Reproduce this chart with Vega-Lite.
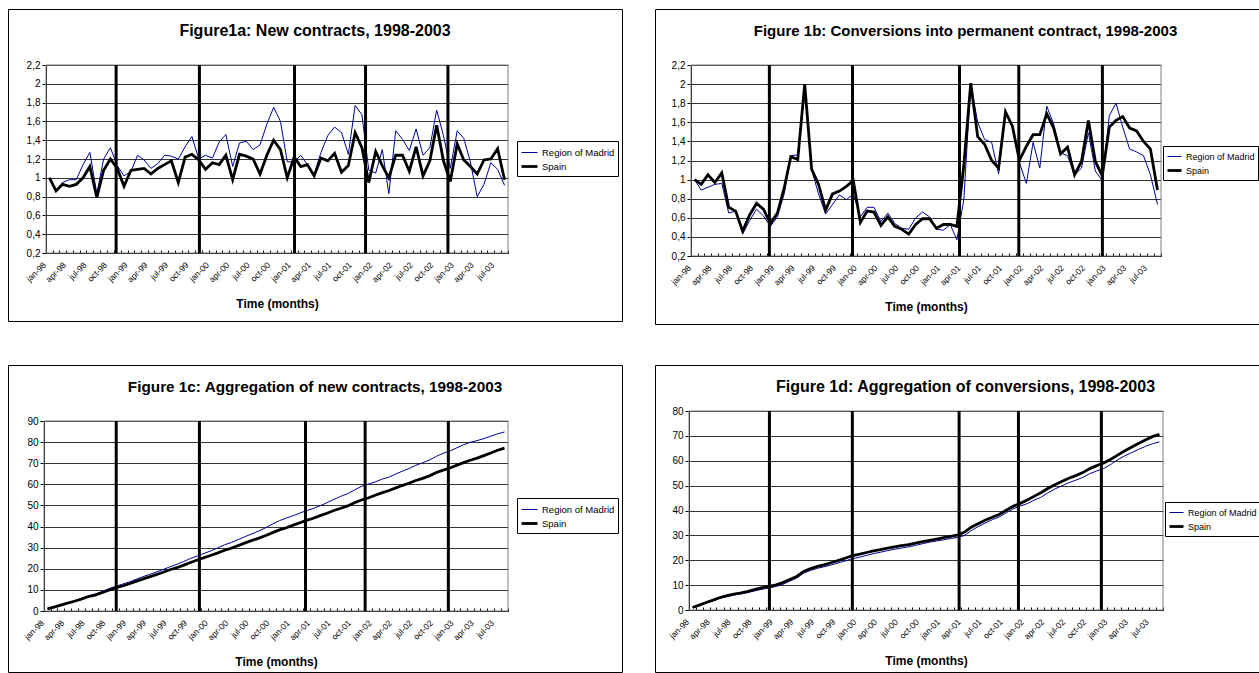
{
  "$schema": "https://vega.github.io/schema/vega-lite/v6.json",
  "background": "white",
  "padding": {"left": 7, "top": 8, "right": 0, "bottom": 0},
  "columns": 2,
  "spacing": {"row": 39, "column": 31},
  "resolve": {
    "scale": {"color": "independent", "strokeWidth": "independent"},
    "legend": {"color": "independent", "strokeWidth": "independent"}
  },
  "datasets": {
    "fig1a": [
      {"m": "1998-01", "Region of Madrid": 1.00, "Spain": 1.00},
      {"m": "1998-02", "Region of Madrid": 0.87, "Spain": 0.86},
      {"m": "1998-03", "Region of Madrid": 0.95, "Spain": 0.93},
      {"m": "1998-04", "Region of Madrid": 0.98, "Spain": 0.91},
      {"m": "1998-05", "Region of Madrid": 0.98, "Spain": 0.93},
      {"m": "1998-06", "Region of Madrid": 1.14, "Spain": 1.00},
      {"m": "1998-07", "Region of Madrid": 1.27, "Spain": 1.12},
      {"m": "1998-08", "Region of Madrid": 0.83, "Spain": 0.79},
      {"m": "1998-09", "Region of Madrid": 1.20, "Spain": 1.08},
      {"m": "1998-10", "Region of Madrid": 1.32, "Spain": 1.20},
      {"m": "1998-11", "Region of Madrid": 1.13, "Spain": 1.10},
      {"m": "1998-12", "Region of Madrid": 1.02, "Spain": 0.91},
      {"m": "1999-01", "Region of Madrid": 1.07, "Spain": 1.08},
      {"m": "1999-02", "Region of Madrid": 1.24, "Spain": 1.09},
      {"m": "1999-03", "Region of Madrid": 1.19, "Spain": 1.10},
      {"m": "1999-04", "Region of Madrid": 1.10, "Spain": 1.04},
      {"m": "1999-05", "Region of Madrid": 1.15, "Spain": 1.10},
      {"m": "1999-06", "Region of Madrid": 1.24, "Spain": 1.14},
      {"m": "1999-07", "Region of Madrid": 1.23, "Spain": 1.18},
      {"m": "1999-08", "Region of Madrid": 1.20, "Spain": 0.95},
      {"m": "1999-09", "Region of Madrid": 1.33, "Spain": 1.22},
      {"m": "1999-10", "Region of Madrid": 1.44, "Spain": 1.25},
      {"m": "1999-11", "Region of Madrid": 1.20, "Spain": 1.19},
      {"m": "1999-12", "Region of Madrid": 1.24, "Spain": 1.09},
      {"m": "2000-01", "Region of Madrid": 1.21, "Spain": 1.16},
      {"m": "2000-02", "Region of Madrid": 1.38, "Spain": 1.14},
      {"m": "2000-03", "Region of Madrid": 1.46, "Spain": 1.24},
      {"m": "2000-04", "Region of Madrid": 1.12, "Spain": 0.98},
      {"m": "2000-05", "Region of Madrid": 1.37, "Spain": 1.25},
      {"m": "2000-06", "Region of Madrid": 1.39, "Spain": 1.23},
      {"m": "2000-07", "Region of Madrid": 1.30, "Spain": 1.20},
      {"m": "2000-08", "Region of Madrid": 1.35, "Spain": 1.04},
      {"m": "2000-09", "Region of Madrid": 1.57, "Spain": 1.24},
      {"m": "2000-10", "Region of Madrid": 1.75, "Spain": 1.40},
      {"m": "2000-11", "Region of Madrid": 1.60, "Spain": 1.30},
      {"m": "2000-12", "Region of Madrid": 1.17, "Spain": 1.00},
      {"m": "2001-01", "Region of Madrid": 1.17, "Spain": 1.22},
      {"m": "2001-02", "Region of Madrid": 1.24, "Spain": 1.12},
      {"m": "2001-03", "Region of Madrid": 1.14, "Spain": 1.14},
      {"m": "2001-04", "Region of Madrid": 1.04, "Spain": 1.02},
      {"m": "2001-05", "Region of Madrid": 1.27, "Spain": 1.21},
      {"m": "2001-06", "Region of Madrid": 1.45, "Spain": 1.18},
      {"m": "2001-07", "Region of Madrid": 1.54, "Spain": 1.26},
      {"m": "2001-08", "Region of Madrid": 1.48, "Spain": 1.06},
      {"m": "2001-09", "Region of Madrid": 1.25, "Spain": 1.13},
      {"m": "2001-10", "Region of Madrid": 1.77, "Spain": 1.48},
      {"m": "2001-11", "Region of Madrid": 1.67, "Spain": 1.32},
      {"m": "2001-12", "Region of Madrid": 1.08, "Spain": 0.95},
      {"m": "2002-01", "Region of Madrid": 1.05, "Spain": 1.28},
      {"m": "2002-02", "Region of Madrid": 1.30, "Spain": 1.13},
      {"m": "2002-03", "Region of Madrid": 0.83, "Spain": 1.00},
      {"m": "2002-04", "Region of Madrid": 1.50, "Spain": 1.24},
      {"m": "2002-05", "Region of Madrid": 1.41, "Spain": 1.24},
      {"m": "2002-06", "Region of Madrid": 1.29, "Spain": 1.07},
      {"m": "2002-07", "Region of Madrid": 1.52, "Spain": 1.33},
      {"m": "2002-08", "Region of Madrid": 1.24, "Spain": 1.02},
      {"m": "2002-09", "Region of Madrid": 1.32, "Spain": 1.18},
      {"m": "2002-10", "Region of Madrid": 1.72, "Spain": 1.56},
      {"m": "2002-11", "Region of Madrid": 1.45, "Spain": 1.18},
      {"m": "2002-12", "Region of Madrid": 1.10, "Spain": 0.96},
      {"m": "2003-01", "Region of Madrid": 1.50, "Spain": 1.36},
      {"m": "2003-02", "Region of Madrid": 1.42, "Spain": 1.19},
      {"m": "2003-03", "Region of Madrid": 1.17, "Spain": 1.12},
      {"m": "2003-04", "Region of Madrid": 0.80, "Spain": 1.04},
      {"m": "2003-05", "Region of Madrid": 0.93, "Spain": 1.19},
      {"m": "2003-06", "Region of Madrid": 1.16, "Spain": 1.20},
      {"m": "2003-07", "Region of Madrid": 1.09, "Spain": 1.31},
      {"m": "2003-08", "Region of Madrid": 0.92, "Spain": 0.98}
    ],
    "fig1b": [
      {"m": "1998-01", "Region of Madrid": 1.00, "Spain": 1.00},
      {"m": "1998-02", "Region of Madrid": 0.89, "Spain": 0.95},
      {"m": "1998-03", "Region of Madrid": 0.92, "Spain": 1.05},
      {"m": "1998-04", "Region of Madrid": 0.95, "Spain": 0.97},
      {"m": "1998-05", "Region of Madrid": 0.96, "Spain": 1.07},
      {"m": "1998-06", "Region of Madrid": 0.65, "Spain": 0.71},
      {"m": "1998-07", "Region of Madrid": 0.67, "Spain": 0.67},
      {"m": "1998-08", "Region of Madrid": 0.43, "Spain": 0.46},
      {"m": "1998-09", "Region of Madrid": 0.57, "Spain": 0.63},
      {"m": "1998-10", "Region of Madrid": 0.69, "Spain": 0.75},
      {"m": "1998-11", "Region of Madrid": 0.62, "Spain": 0.69},
      {"m": "1998-12", "Region of Madrid": 0.51, "Spain": 0.54},
      {"m": "1999-01", "Region of Madrid": 0.61, "Spain": 0.65},
      {"m": "1999-02", "Region of Madrid": 0.85, "Spain": 0.91},
      {"m": "1999-03", "Region of Madrid": 1.25, "Spain": 1.24},
      {"m": "1999-04", "Region of Madrid": 1.26, "Spain": 1.21},
      {"m": "1999-05", "Region of Madrid": 2.00, "Spain": 2.00},
      {"m": "1999-06", "Region of Madrid": 1.10, "Spain": 1.11},
      {"m": "1999-07", "Region of Madrid": 0.85, "Spain": 0.95},
      {"m": "1999-08", "Region of Madrid": 0.64, "Spain": 0.68},
      {"m": "1999-09", "Region of Madrid": 0.74, "Spain": 0.85},
      {"m": "1999-10", "Region of Madrid": 0.84, "Spain": 0.88},
      {"m": "1999-11", "Region of Madrid": 0.79, "Spain": 0.93},
      {"m": "1999-12", "Region of Madrid": 0.85, "Spain": 0.99},
      {"m": "2000-01", "Region of Madrid": 0.61, "Spain": 0.55},
      {"m": "2000-02", "Region of Madrid": 0.71, "Spain": 0.67},
      {"m": "2000-03", "Region of Madrid": 0.71, "Spain": 0.66},
      {"m": "2000-04", "Region of Madrid": 0.56, "Spain": 0.52},
      {"m": "2000-05", "Region of Madrid": 0.65, "Spain": 0.61},
      {"m": "2000-06", "Region of Madrid": 0.54, "Spain": 0.51},
      {"m": "2000-07", "Region of Madrid": 0.49, "Spain": 0.48},
      {"m": "2000-08", "Region of Madrid": 0.48, "Spain": 0.43},
      {"m": "2000-09", "Region of Madrid": 0.60, "Spain": 0.53},
      {"m": "2000-10", "Region of Madrid": 0.66, "Spain": 0.59},
      {"m": "2000-11", "Region of Madrid": 0.61, "Spain": 0.59},
      {"m": "2000-12", "Region of Madrid": 0.48, "Spain": 0.49},
      {"m": "2001-01", "Region of Madrid": 0.47, "Spain": 0.53},
      {"m": "2001-02", "Region of Madrid": 0.53, "Spain": 0.53},
      {"m": "2001-03", "Region of Madrid": 0.37, "Spain": 0.51},
      {"m": "2001-04", "Region of Madrid": 0.79, "Spain": 1.15},
      {"m": "2001-05", "Region of Madrid": 2.00, "Spain": 2.01},
      {"m": "2001-06", "Region of Madrid": 1.60, "Spain": 1.45},
      {"m": "2001-07", "Region of Madrid": 1.42, "Spain": 1.37},
      {"m": "2001-08", "Region of Madrid": 1.39, "Spain": 1.20},
      {"m": "2001-09", "Region of Madrid": 1.06, "Spain": 1.12},
      {"m": "2001-10", "Region of Madrid": 1.70, "Spain": 1.71},
      {"m": "2001-11", "Region of Madrid": 1.56, "Spain": 1.56},
      {"m": "2001-12", "Region of Madrid": 1.18, "Spain": 1.20},
      {"m": "2002-01", "Region of Madrid": 0.96, "Spain": 1.35},
      {"m": "2002-02", "Region of Madrid": 1.39, "Spain": 1.47},
      {"m": "2002-03", "Region of Madrid": 1.12, "Spain": 1.47},
      {"m": "2002-04", "Region of Madrid": 1.77, "Spain": 1.69},
      {"m": "2002-05", "Region of Madrid": 1.58, "Spain": 1.54},
      {"m": "2002-06", "Region of Madrid": 1.28, "Spain": 1.27},
      {"m": "2002-07", "Region of Madrid": 1.25, "Spain": 1.34},
      {"m": "2002-08", "Region of Madrid": 1.05, "Spain": 1.05},
      {"m": "2002-09", "Region of Madrid": 1.12, "Spain": 1.19},
      {"m": "2002-10", "Region of Madrid": 1.49, "Spain": 1.62},
      {"m": "2002-11", "Region of Madrid": 1.09, "Spain": 1.19},
      {"m": "2002-12", "Region of Madrid": 0.99, "Spain": 1.04},
      {"m": "2003-01", "Region of Madrid": 1.67, "Spain": 1.55},
      {"m": "2003-02", "Region of Madrid": 1.80, "Spain": 1.62},
      {"m": "2003-03", "Region of Madrid": 1.55, "Spain": 1.66},
      {"m": "2003-04", "Region of Madrid": 1.32, "Spain": 1.54},
      {"m": "2003-05", "Region of Madrid": 1.29, "Spain": 1.51},
      {"m": "2003-06", "Region of Madrid": 1.25, "Spain": 1.40},
      {"m": "2003-07", "Region of Madrid": 1.05, "Spain": 1.32},
      {"m": "2003-08", "Region of Madrid": 0.74, "Spain": 0.89}
    ],
    "fig1c": [
      {"m": "1998-01", "Region of Madrid": 1.00, "Spain": 1.00},
      {"m": "1998-02", "Region of Madrid": 1.87, "Spain": 1.86},
      {"m": "1998-03", "Region of Madrid": 2.82, "Spain": 2.79},
      {"m": "1998-04", "Region of Madrid": 3.80, "Spain": 3.70},
      {"m": "1998-05", "Region of Madrid": 4.78, "Spain": 4.63},
      {"m": "1998-06", "Region of Madrid": 5.92, "Spain": 5.63},
      {"m": "1998-07", "Region of Madrid": 7.19, "Spain": 6.75},
      {"m": "1998-08", "Region of Madrid": 8.02, "Spain": 7.54},
      {"m": "1998-09", "Region of Madrid": 9.22, "Spain": 8.62},
      {"m": "1998-10", "Region of Madrid": 10.54, "Spain": 9.82},
      {"m": "1998-11", "Region of Madrid": 11.67, "Spain": 10.92},
      {"m": "1998-12", "Region of Madrid": 12.69, "Spain": 11.83},
      {"m": "1999-01", "Region of Madrid": 13.76, "Spain": 12.91},
      {"m": "1999-02", "Region of Madrid": 15.00, "Spain": 14.00},
      {"m": "1999-03", "Region of Madrid": 16.19, "Spain": 15.10},
      {"m": "1999-04", "Region of Madrid": 17.29, "Spain": 16.14},
      {"m": "1999-05", "Region of Madrid": 18.44, "Spain": 17.24},
      {"m": "1999-06", "Region of Madrid": 19.68, "Spain": 18.38},
      {"m": "1999-07", "Region of Madrid": 20.91, "Spain": 19.56},
      {"m": "1999-08", "Region of Madrid": 22.11, "Spain": 20.51},
      {"m": "1999-09", "Region of Madrid": 23.44, "Spain": 21.73},
      {"m": "1999-10", "Region of Madrid": 24.88, "Spain": 22.98},
      {"m": "1999-11", "Region of Madrid": 26.08, "Spain": 24.17},
      {"m": "1999-12", "Region of Madrid": 27.32, "Spain": 25.26},
      {"m": "2000-01", "Region of Madrid": 28.53, "Spain": 26.42},
      {"m": "2000-02", "Region of Madrid": 29.91, "Spain": 27.56},
      {"m": "2000-03", "Region of Madrid": 31.37, "Spain": 28.80},
      {"m": "2000-04", "Region of Madrid": 32.49, "Spain": 29.78},
      {"m": "2000-05", "Region of Madrid": 33.86, "Spain": 31.03},
      {"m": "2000-06", "Region of Madrid": 35.25, "Spain": 32.26},
      {"m": "2000-07", "Region of Madrid": 36.55, "Spain": 33.46},
      {"m": "2000-08", "Region of Madrid": 37.90, "Spain": 34.50},
      {"m": "2000-09", "Region of Madrid": 39.47, "Spain": 35.74},
      {"m": "2000-10", "Region of Madrid": 41.22, "Spain": 37.14},
      {"m": "2000-11", "Region of Madrid": 42.82, "Spain": 38.44},
      {"m": "2000-12", "Region of Madrid": 43.99, "Spain": 39.44},
      {"m": "2001-01", "Region of Madrid": 45.16, "Spain": 40.66},
      {"m": "2001-02", "Region of Madrid": 46.40, "Spain": 41.78},
      {"m": "2001-03", "Region of Madrid": 47.54, "Spain": 42.92},
      {"m": "2001-04", "Region of Madrid": 48.58, "Spain": 43.94},
      {"m": "2001-05", "Region of Madrid": 49.85, "Spain": 45.15},
      {"m": "2001-06", "Region of Madrid": 51.30, "Spain": 46.33},
      {"m": "2001-07", "Region of Madrid": 52.84, "Spain": 47.59},
      {"m": "2001-08", "Region of Madrid": 54.32, "Spain": 48.65},
      {"m": "2001-09", "Region of Madrid": 55.57, "Spain": 49.78},
      {"m": "2001-10", "Region of Madrid": 57.34, "Spain": 51.26},
      {"m": "2001-11", "Region of Madrid": 59.01, "Spain": 52.58},
      {"m": "2001-12", "Region of Madrid": 60.09, "Spain": 53.53},
      {"m": "2002-01", "Region of Madrid": 61.14, "Spain": 54.81},
      {"m": "2002-02", "Region of Madrid": 62.44, "Spain": 55.94},
      {"m": "2002-03", "Region of Madrid": 63.27, "Spain": 56.94},
      {"m": "2002-04", "Region of Madrid": 64.77, "Spain": 58.18},
      {"m": "2002-05", "Region of Madrid": 66.18, "Spain": 59.42},
      {"m": "2002-06", "Region of Madrid": 67.47, "Spain": 60.49},
      {"m": "2002-07", "Region of Madrid": 68.99, "Spain": 61.82},
      {"m": "2002-08", "Region of Madrid": 70.23, "Spain": 62.84},
      {"m": "2002-09", "Region of Madrid": 71.55, "Spain": 64.02},
      {"m": "2002-10", "Region of Madrid": 73.27, "Spain": 65.58},
      {"m": "2002-11", "Region of Madrid": 74.72, "Spain": 66.76},
      {"m": "2002-12", "Region of Madrid": 75.82, "Spain": 67.72},
      {"m": "2003-01", "Region of Madrid": 77.32, "Spain": 69.08},
      {"m": "2003-02", "Region of Madrid": 78.74, "Spain": 70.27},
      {"m": "2003-03", "Region of Madrid": 79.91, "Spain": 71.39},
      {"m": "2003-04", "Region of Madrid": 80.71, "Spain": 72.43},
      {"m": "2003-05", "Region of Madrid": 81.64, "Spain": 73.62},
      {"m": "2003-06", "Region of Madrid": 82.80, "Spain": 74.82},
      {"m": "2003-07", "Region of Madrid": 83.89, "Spain": 76.13},
      {"m": "2003-08", "Region of Madrid": 84.81, "Spain": 77.11}
    ],
    "fig1d": [
      {"m": "1998-01", "Region of Madrid": 1.00, "Spain": 1.00},
      {"m": "1998-02", "Region of Madrid": 1.89, "Spain": 1.95},
      {"m": "1998-03", "Region of Madrid": 2.81, "Spain": 3.00},
      {"m": "1998-04", "Region of Madrid": 3.76, "Spain": 3.97},
      {"m": "1998-05", "Region of Madrid": 4.72, "Spain": 5.04},
      {"m": "1998-06", "Region of Madrid": 5.37, "Spain": 5.75},
      {"m": "1998-07", "Region of Madrid": 6.04, "Spain": 6.42},
      {"m": "1998-08", "Region of Madrid": 6.47, "Spain": 6.88},
      {"m": "1998-09", "Region of Madrid": 7.04, "Spain": 7.51},
      {"m": "1998-10", "Region of Madrid": 7.73, "Spain": 8.26},
      {"m": "1998-11", "Region of Madrid": 8.35, "Spain": 8.95},
      {"m": "1998-12", "Region of Madrid": 8.86, "Spain": 9.49},
      {"m": "1999-01", "Region of Madrid": 9.47, "Spain": 10.14},
      {"m": "1999-02", "Region of Madrid": 10.32, "Spain": 11.05},
      {"m": "1999-03", "Region of Madrid": 11.57, "Spain": 12.29},
      {"m": "1999-04", "Region of Madrid": 12.83, "Spain": 13.50},
      {"m": "1999-05", "Region of Madrid": 14.83, "Spain": 15.50},
      {"m": "1999-06", "Region of Madrid": 15.93, "Spain": 16.61},
      {"m": "1999-07", "Region of Madrid": 16.78, "Spain": 17.56},
      {"m": "1999-08", "Region of Madrid": 17.42, "Spain": 18.24},
      {"m": "1999-09", "Region of Madrid": 18.16, "Spain": 19.09},
      {"m": "1999-10", "Region of Madrid": 19.00, "Spain": 19.97},
      {"m": "1999-11", "Region of Madrid": 19.79, "Spain": 20.90},
      {"m": "1999-12", "Region of Madrid": 20.64, "Spain": 21.89},
      {"m": "2000-01", "Region of Madrid": 21.25, "Spain": 22.44},
      {"m": "2000-02", "Region of Madrid": 21.96, "Spain": 23.11},
      {"m": "2000-03", "Region of Madrid": 22.67, "Spain": 23.77},
      {"m": "2000-04", "Region of Madrid": 23.23, "Spain": 24.29},
      {"m": "2000-05", "Region of Madrid": 23.88, "Spain": 24.90},
      {"m": "2000-06", "Region of Madrid": 24.42, "Spain": 25.41},
      {"m": "2000-07", "Region of Madrid": 24.91, "Spain": 25.89},
      {"m": "2000-08", "Region of Madrid": 25.39, "Spain": 26.32},
      {"m": "2000-09", "Region of Madrid": 25.99, "Spain": 26.85},
      {"m": "2000-10", "Region of Madrid": 26.65, "Spain": 27.44},
      {"m": "2000-11", "Region of Madrid": 27.26, "Spain": 28.03},
      {"m": "2000-12", "Region of Madrid": 27.74, "Spain": 28.52},
      {"m": "2001-01", "Region of Madrid": 28.21, "Spain": 29.05},
      {"m": "2001-02", "Region of Madrid": 28.74, "Spain": 29.58},
      {"m": "2001-03", "Region of Madrid": 29.11, "Spain": 30.09},
      {"m": "2001-04", "Region of Madrid": 29.90, "Spain": 31.24},
      {"m": "2001-05", "Region of Madrid": 31.90, "Spain": 33.25},
      {"m": "2001-06", "Region of Madrid": 33.50, "Spain": 34.70},
      {"m": "2001-07", "Region of Madrid": 34.92, "Spain": 36.07},
      {"m": "2001-08", "Region of Madrid": 36.31, "Spain": 37.27},
      {"m": "2001-09", "Region of Madrid": 37.37, "Spain": 38.39},
      {"m": "2001-10", "Region of Madrid": 39.07, "Spain": 40.10},
      {"m": "2001-11", "Region of Madrid": 40.63, "Spain": 41.66},
      {"m": "2001-12", "Region of Madrid": 41.81, "Spain": 42.86},
      {"m": "2002-01", "Region of Madrid": 42.77, "Spain": 44.21},
      {"m": "2002-02", "Region of Madrid": 44.16, "Spain": 45.68},
      {"m": "2002-03", "Region of Madrid": 45.28, "Spain": 47.15},
      {"m": "2002-04", "Region of Madrid": 47.05, "Spain": 48.84},
      {"m": "2002-05", "Region of Madrid": 48.63, "Spain": 50.38},
      {"m": "2002-06", "Region of Madrid": 49.91, "Spain": 51.65},
      {"m": "2002-07", "Region of Madrid": 51.16, "Spain": 52.99},
      {"m": "2002-08", "Region of Madrid": 52.21, "Spain": 54.04},
      {"m": "2002-09", "Region of Madrid": 53.33, "Spain": 55.23},
      {"m": "2002-10", "Region of Madrid": 54.82, "Spain": 56.85},
      {"m": "2002-11", "Region of Madrid": 55.91, "Spain": 58.04},
      {"m": "2002-12", "Region of Madrid": 56.90, "Spain": 59.08},
      {"m": "2003-01", "Region of Madrid": 58.57, "Spain": 60.63},
      {"m": "2003-02", "Region of Madrid": 60.37, "Spain": 62.25},
      {"m": "2003-03", "Region of Madrid": 61.92, "Spain": 63.91},
      {"m": "2003-04", "Region of Madrid": 63.24, "Spain": 65.45},
      {"m": "2003-05", "Region of Madrid": 64.53, "Spain": 66.96},
      {"m": "2003-06", "Region of Madrid": 65.78, "Spain": 68.36},
      {"m": "2003-07", "Region of Madrid": 66.83, "Spain": 69.68},
      {"m": "2003-08", "Region of Madrid": 67.57, "Spain": 70.57}
    ]
  },
  "concat": [
    {
      "width": 614,
      "height": 312,
      "title": {"text": "Figure1a: New contracts, 1998-2003", "fontSize": 16},
      "layer": [
        {
          "data": {"values": [{}]},
          "mark": {"type": "rect", "fill": "transparent", "stroke": "#808080", "strokeWidth": 1},
          "encoding": {
            "x": {"datum": {"year": 1998, "month": 1, "date": 1, "utc": true}, "type": "temporal", "scale": {"type": "utc"}},
            "x2": {"datum": {"year": 2003, "month": 9, "date": 1, "utc": true}},
            "y": {"datum": 0.2, "type": "quantitative"},
            "y2": {"datum": 2.2}
          }
        },
        {
          "data": {"name": "fig1a"},
          "transform": [{"fold": ["Region of Madrid", "Spain"], "as": ["series", "value"]}],
          "mark": "line",
          "encoding": {
            "x": {
              "field": "m", "type": "temporal", "timeUnit": "utcyearmonth", "bandPosition": 0.5,
              "scale": {"type": "utc", "domain": [{"year": 1998, "month": 1, "date": 1, "utc": true}, {"year": 2003, "month": 9, "date": 1, "utc": true}], "range": [38, 500]},
              "axis": {"title": "Time (months)", "offset": -68, "tickCount": {"interval": "month", "step": 1},
                "labelExpr": "utcmonth(datum.value) % 3 == 0 ? lower(utcFormat(datum.value, '%b-%y')) : ''"}
            },
            "y": {
              "field": "value", "type": "quantitative",
              "scale": {"domain": [0.2, 2.2], "range": [244, 56], "nice": false, "zero": false},
              "axis": {"title": null, "offset": -38, "tickCount": 30, "values": [0.2, 0.4, 0.6, 0.8, 1, 1.2, 1.4, 1.6, 1.8, 2, 2.2],
                "labelExpr": "replace(format(datum.value, '~g'), '.', ',')"}
            },
            "color": {
              "field": "series", "type": "nominal",
              "scale": {"domain": ["Region of Madrid", "Spain"], "range": ["#000099", "#000000"]},
              "legend": {"orient": "none", "legendX": 509, "legendY": 132, "symbolSize": 256, "labelFontSize": 9.5}
            },
            "strokeWidth": {
              "field": "series", "type": "nominal",
              "scale": {"domain": ["Region of Madrid", "Spain"], "range": [1, 2.8]}
            }
          }
        },
        {
          "data": {"values": [{"d": "1998-11-11"}, {"d": "1999-11-19"}, {"d": "2001-01-18"}, {"d": "2001-12-02"}, {"d": "2002-12-06"}]},
          "mark": {"type": "rule", "color": "black", "strokeWidth": 3},
          "encoding": {
            "x": {"field": "d", "type": "temporal", "scale": {"type": "utc"}},
            "y": {"datum": 0.2, "type": "quantitative"},
            "y2": {"datum": 2.2}
          }
        }
      ]
    },
    {
      "width": 605,
      "height": 315,
      "title": {"text": "Figure 1b: Conversions into permanent contract, 1998-2003", "dx": 8, "fontSize": 15},
      "layer": [
        {
          "data": {"values": [{}]},
          "mark": {"type": "rect", "fill": "transparent", "stroke": "#808080", "strokeWidth": 1},
          "encoding": {
            "x": {"datum": {"year": 1998, "month": 1, "date": 1, "utc": true}, "type": "temporal", "scale": {"type": "utc"}},
            "x2": {"datum": {"year": 2003, "month": 9, "date": 1, "utc": true}},
            "y": {"datum": 0.2, "type": "quantitative"},
            "y2": {"datum": 2.2}
          }
        },
        {
          "data": {"name": "fig1b"},
          "transform": [{"fold": ["Region of Madrid", "Spain"], "as": ["series", "value"]}],
          "mark": "line",
          "encoding": {
            "x": {
              "field": "m", "type": "temporal", "timeUnit": "utcyearmonth", "bandPosition": 0.5,
              "scale": {"type": "utc", "domain": [{"year": 1998, "month": 1, "date": 1, "utc": true}, {"year": 2003, "month": 9, "date": 1, "utc": true}], "range": [36, 506]},
              "axis": {"title": "Time (months)", "offset": -68, "tickCount": {"interval": "month", "step": 1},
                "labelExpr": "utcmonth(datum.value) % 3 == 0 ? lower(utcFormat(datum.value, '%b-%y')) : ''"}
            },
            "y": {
              "field": "value", "type": "quantitative",
              "scale": {"domain": [0.2, 2.2], "range": [247, 56], "nice": false, "zero": false},
              "axis": {"title": null, "offset": -36, "tickCount": 30, "values": [0.2, 0.4, 0.6, 0.8, 1, 1.2, 1.4, 1.6, 1.8, 2, 2.2],
                "labelExpr": "replace(format(datum.value, '~g'), '.', ',')"}
            },
            "color": {
              "field": "series", "type": "nominal",
              "scale": {"domain": ["Region of Madrid", "Spain"], "range": ["#000099", "#000000"]},
              "legend": {"orient": "none", "legendX": 508, "legendY": 137, "symbolSize": 196, "labelFontSize": 9}
            },
            "strokeWidth": {
              "field": "series", "type": "nominal",
              "scale": {"domain": ["Region of Madrid", "Spain"], "range": [1, 2.8]}
            }
          }
        },
        {
          "data": {"values": [{"d": "1998-12-12"}, {"d": "1999-12-13"}, {"d": "2001-03-28"}, {"d": "2001-12-14"}, {"d": "2002-12-17"}]},
          "mark": {"type": "rule", "color": "black", "strokeWidth": 3},
          "encoding": {
            "x": {"field": "d", "type": "temporal", "scale": {"type": "utc"}},
            "y": {"datum": 0.2, "type": "quantitative"},
            "y2": {"datum": 2.2}
          }
        }
      ]
    },
    {
      "width": 614,
      "height": 307,
      "title": {"text": "Figure 1c: Aggregation of new contracts, 1998-2003", "fontSize": 15.3},
      "layer": [
        {
          "data": {"values": [{}]},
          "mark": {"type": "rect", "fill": "transparent", "stroke": "#808080", "strokeWidth": 1},
          "encoding": {
            "x": {"datum": {"year": 1998, "month": 1, "date": 1, "utc": true}, "type": "temporal", "scale": {"type": "utc"}},
            "x2": {"datum": {"year": 2003, "month": 9, "date": 1, "utc": true}},
            "y": {"datum": 0, "type": "quantitative"},
            "y2": {"datum": 90}
          }
        },
        {
          "data": {"name": "fig1c"},
          "transform": [{"fold": ["Region of Madrid", "Spain"], "as": ["series", "value"]}],
          "mark": "line",
          "encoding": {
            "x": {
              "field": "m", "type": "temporal", "timeUnit": "utcyearmonth", "bandPosition": 0.5,
              "scale": {"type": "utc", "domain": [{"year": 1998, "month": 1, "date": 1, "utc": true}, {"year": 2003, "month": 9, "date": 1, "utc": true}], "range": [36, 500]},
              "axis": {"title": "Time (months)", "offset": -61, "tickCount": {"interval": "month", "step": 1},
                "labelExpr": "utcmonth(datum.value) % 3 == 0 ? lower(utcFormat(datum.value, '%b-%y')) : ''"}
            },
            "y": {
              "field": "value", "type": "quantitative",
              "scale": {"domain": [0, 90], "range": [246, 56], "nice": false},
              "axis": {"title": null, "offset": -36, "tickCount": 30, "values": [0, 10, 20, 30, 40, 50, 60, 70, 80, 90]}
            },
            "color": {
              "field": "series", "type": "nominal",
              "scale": {"domain": ["Region of Madrid", "Spain"], "range": ["#000099", "#000000"]},
              "legend": {"orient": "none", "legendX": 509, "legendY": 133, "symbolSize": 256, "labelFontSize": 9.5}
            },
            "strokeWidth": {
              "field": "series", "type": "nominal",
              "scale": {"domain": ["Region of Madrid", "Spain"], "range": [1, 2.8]}
            }
          }
        },
        {
          "data": {"values": [{"d": "1998-11-19"}, {"d": "1999-11-25"}, {"d": "2001-03-12"}, {"d": "2001-12-03"}, {"d": "2002-12-09"}]},
          "mark": {"type": "rule", "color": "black", "strokeWidth": 3},
          "encoding": {
            "x": {"field": "d", "type": "temporal", "scale": {"type": "utc"}},
            "y": {"datum": 0, "type": "quantitative"},
            "y2": {"datum": 90}
          }
        }
      ]
    },
    {
      "width": 605,
      "height": 307,
      "title": {"text": "Figure 1d: Aggregation of conversions, 1998-2003", "dx": 8, "fontSize": 16},
      "layer": [
        {
          "data": {"values": [{}]},
          "mark": {"type": "rect", "fill": "transparent", "stroke": "#808080", "strokeWidth": 1},
          "encoding": {
            "x": {"datum": {"year": 1998, "month": 1, "date": 1, "utc": true}, "type": "temporal", "scale": {"type": "utc"}},
            "x2": {"datum": {"year": 2003, "month": 9, "date": 1, "utc": true}},
            "y": {"datum": 0, "type": "quantitative"},
            "y2": {"datum": 80}
          }
        },
        {
          "data": {"name": "fig1d"},
          "transform": [{"fold": ["Region of Madrid", "Spain"], "as": ["series", "value"]}],
          "mark": "line",
          "encoding": {
            "x": {
              "field": "m", "type": "temporal", "timeUnit": "utcyearmonth", "bandPosition": 0.5,
              "scale": {"type": "utc", "domain": [{"year": 1998, "month": 1, "date": 1, "utc": true}, {"year": 2003, "month": 9, "date": 1, "utc": true}], "range": [34, 508]},
              "axis": {"title": "Time (months)", "offset": -62, "tickCount": {"interval": "month", "step": 1},
                "labelExpr": "utcmonth(datum.value) % 3 == 0 ? lower(utcFormat(datum.value, '%b-%y')) : ''"}
            },
            "y": {
              "field": "value", "type": "quantitative",
              "scale": {"domain": [0, 80], "range": [245, 46], "nice": false},
              "axis": {"title": null, "offset": -34, "tickCount": 30, "values": [0, 10, 20, 30, 40, 50, 60, 70, 80]}
            },
            "color": {
              "field": "series", "type": "nominal",
              "scale": {"domain": ["Region of Madrid", "Spain"], "range": ["#000099", "#000000"]},
              "legend": {"orient": "none", "legendX": 510, "legendY": 137, "symbolSize": 196, "labelFontSize": 9}
            },
            "strokeWidth": {
              "field": "series", "type": "nominal",
              "scale": {"domain": ["Region of Madrid", "Spain"], "range": [1, 2.8]}
            }
          }
        },
        {
          "data": {"values": [{"d": "1998-12-18"}, {"d": "1999-12-15"}, {"d": "2001-03-25"}, {"d": "2001-12-09"}, {"d": "2002-12-06"}]},
          "mark": {"type": "rule", "color": "black", "strokeWidth": 3},
          "encoding": {
            "x": {"field": "d", "type": "temporal", "scale": {"type": "utc"}},
            "y": {"datum": 0, "type": "quantitative"},
            "y2": {"datum": 80}
          }
        }
      ]
    }
  ],
  "config": {
    "font": "Liberation Sans",
    "view": {"stroke": "black", "strokeWidth": 1},
    "title": {"anchor": "middle", "frame": "group", "fontSize": 15.5, "fontWeight": "bold", "color": "black", "offset": -30},
    "axis": {
      "domainColor": "black", "domainWidth": 1, "tickColor": "black",
      "labelColor": "black", "labelFontSize": 10, "titleColor": "black",
      "gridColor": "#333333", "gridWidth": 1
    },
    "axisX": {
      "grid": false, "tickSize": -3, "labelAngle": -45, "labelAlign": "right", "labelBaseline": "middle",
      "labelFontSize": 8.5, "labelOverlap": false, "labelFlush": false, "labelPadding": 13, "labelOffset": -2,
      "titleFontSize": 12, "titleFontWeight": "bold", "titlePadding": 15
    },
    "axisY": {"grid": true, "tickSize": 4, "labelPadding": 2, "labelOverlap": false},
    "legend": {
      "title": null, "symbolType": "stroke", "labelColor": "black",
      "strokeColor": "black", "fillColor": "white", "padding": 3, "rowPadding": -2, "labelOffset": 3
    },
    "line": {"strokeJoin": "miter"}
  }
}
